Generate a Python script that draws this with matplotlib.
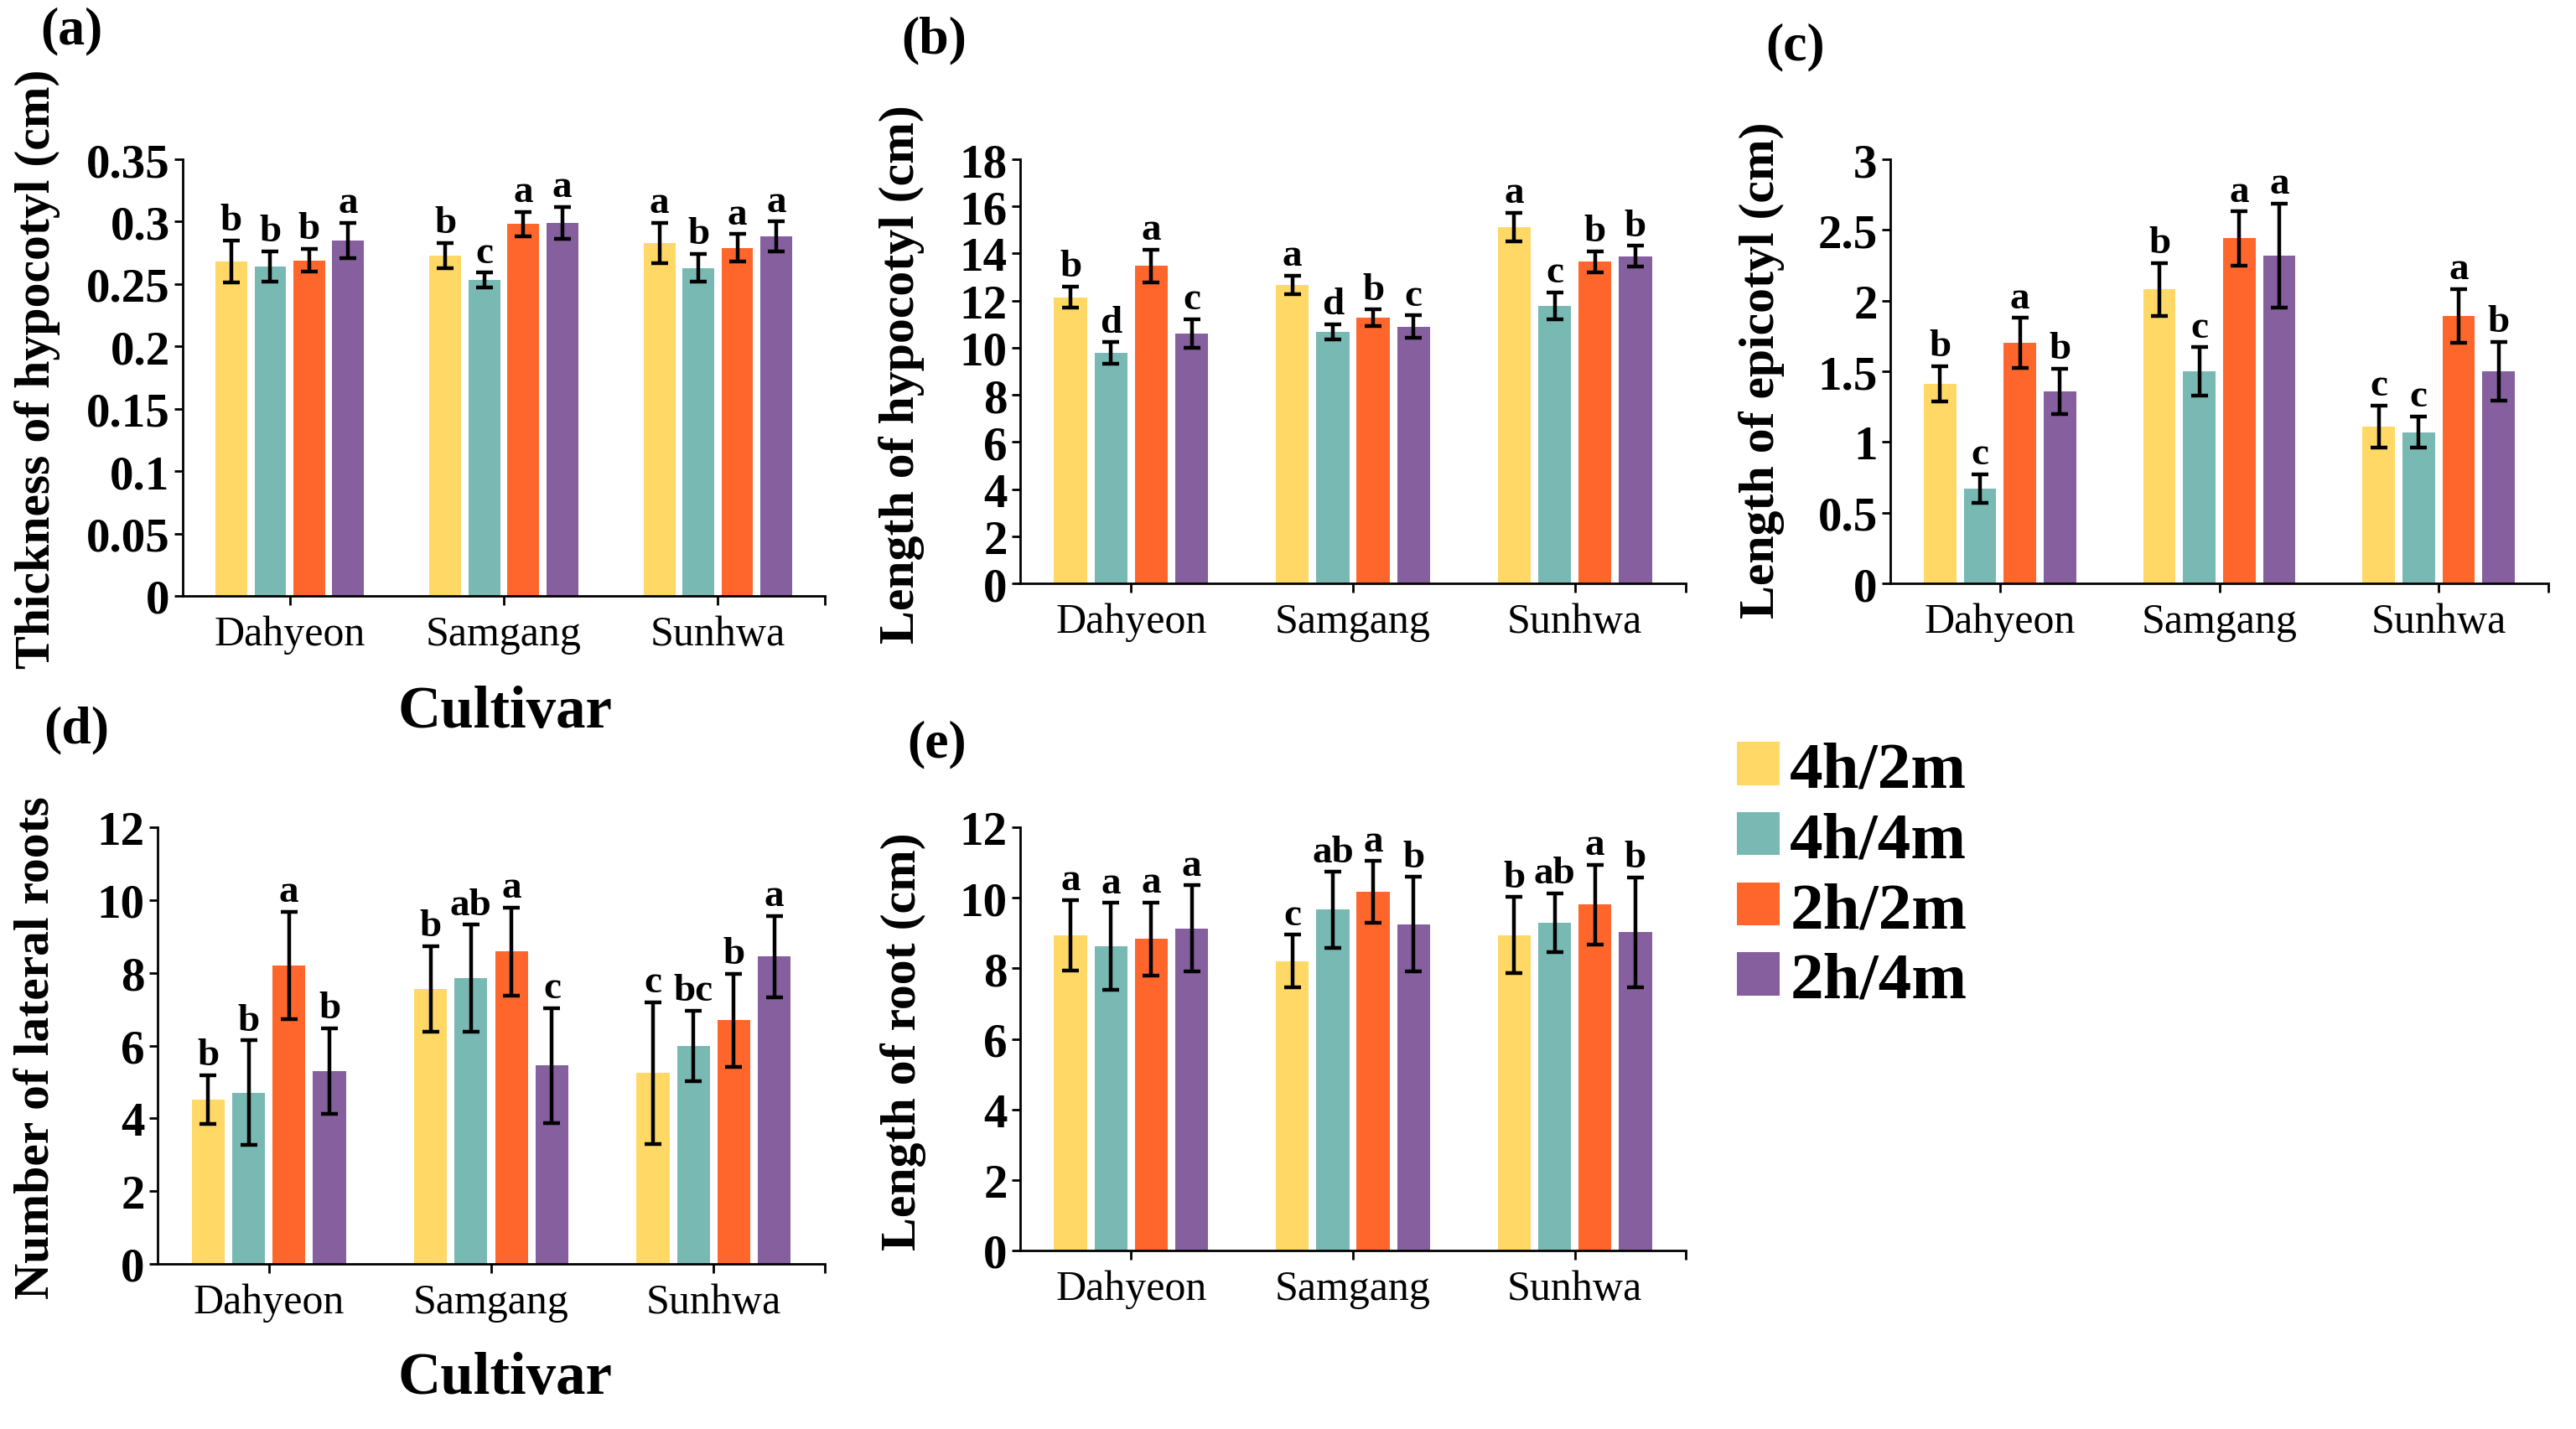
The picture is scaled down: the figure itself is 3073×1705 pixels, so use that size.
import matplotlib
matplotlib.use('Agg')
import matplotlib.pyplot as plt
import numpy as np
from matplotlib.patches import Patch

plt.rcParams['font.family'] = ['Liberation Serif', 'DejaVu Serif']

cultivars = ['Dahyeon', 'Samgang', 'Sunhwa']
treatments = ['4h/2m', '4h/4m', '2h/2m', '2h/4m']
colors = ['#FFD866', '#78B9B4', '#FF662C', '#855F9E']

# rows = treatments (4h/2m, 4h/4m, 2h/2m, 2h/4m); columns = cultivars
# (a) Thickness of hypocotyl (cm)
thick_mean = [[0.268, 0.273, 0.283],
              [0.264, 0.253, 0.263],
              [0.269, 0.298, 0.279],
              [0.285, 0.299, 0.288]]
thick_err = [[0.017, 0.010, 0.016],
             [0.012, 0.006, 0.011],
             [0.009, 0.010, 0.011],
             [0.014, 0.013, 0.012]]
thick_let = [['b', 'b', 'a'], ['b', 'c', 'b'], ['b', 'a', 'a'], ['a', 'a', 'a']]
thick_ticks = [0, 0.05, 0.1, 0.15, 0.2, 0.25, 0.3, 0.35]
thick_ticklabels = ['0', '0.05', '0.1', '0.15', '0.2', '0.25', '0.3', '0.35']

# (b) Length of hypocotyl (cm)
hypo_mean = [[12.14, 12.67, 15.12],
             [9.78, 10.67, 11.78],
             [13.47, 11.27, 13.65],
             [10.61, 10.90, 13.88]]
hypo_err = [[0.45, 0.38, 0.62],
            [0.45, 0.32, 0.58],
            [0.70, 0.35, 0.44],
            [0.60, 0.47, 0.44]]
hypo_let = [['b', 'a', 'a'], ['d', 'd', 'c'], ['a', 'b', 'b'], ['c', 'c', 'b']]
hypo_ticks = [0, 2, 4, 6, 8, 10, 12, 14, 16, 18]
hypo_ticklabels = ['0', '2', '4', '6', '8', '10', '12', '14', '16', '18']

# (c) Length of epicotyl (cm)
epi_mean = [[1.41, 2.08, 1.11],
            [0.67, 1.50, 1.07],
            [1.70, 2.44, 1.89],
            [1.36, 2.32, 1.50]]
epi_err = [[0.125, 0.187, 0.148],
           [0.100, 0.170, 0.110],
           [0.177, 0.190, 0.190],
           [0.160, 0.367, 0.207]]
epi_let = [['b', 'b', 'c'], ['c', 'c', 'c'], ['a', 'a', 'a'], ['b', 'a', 'b']]
epi_ticks = [0, 0.5, 1, 1.5, 2, 2.5, 3]
epi_ticklabels = ['0', '0.5', '1', '1.5', '2', '2.5', '3']

# (d) Number of lateral roots
lat_mean = [[4.51, 7.56, 5.24],
            [4.71, 7.85, 5.99],
            [8.20, 8.59, 6.70],
            [5.30, 5.45, 8.45]]
lat_err = [[0.67, 1.17, 1.95],
           [1.43, 1.47, 0.96],
           [1.48, 1.21, 1.28],
           [1.17, 1.57, 1.12]]
lat_let = [['b', 'b', 'c'], ['b', 'ab', 'bc'], ['a', 'a', 'b'], ['b', 'c', 'a']]
lat_ticks = [0, 2, 4, 6, 8, 10, 12]
lat_ticklabels = ['0', '2', '4', '6', '8', '10', '12']

# (e) Length of root (cm)
root_mean = [[8.93, 8.20, 8.94],
             [8.62, 9.66, 9.29],
             [8.83, 10.16, 9.81],
             [9.13, 9.25, 9.02]]
root_err = [[1.00, 0.75, 1.08],
            [1.23, 1.07, 0.83],
            [1.04, 0.88, 1.13],
            [1.22, 1.34, 1.56]]
root_let = [['a', 'c', 'b'], ['a', 'ab', 'ab'], ['a', 'a', 'a'], ['a', 'b', 'b']]
root_ticks = [0, 2, 4, 6, 8, 10, 12]
root_ticklabels = ['0', '2', '4', '6', '8', '10', '12']

W, H = 3073, 1706
fig = plt.figure(figsize=(W / 100, H / 100), dpi=100)

panels = [
    dict(rect=[218, 191, 984, 712], mean=thick_mean, err=thick_err, let=thick_let,
         ticks=thick_ticks, tl=thick_ticklabels, ylabel='Thickness of hypocotyl (cm)',
         ylab_xy=(45, 440), tag='(a)', tag_xy=(48, 37)),
    dict(rect=[1217, 191, 2011, 697], mean=hypo_mean, err=hypo_err, let=hypo_let,
         ticks=hypo_ticks, tl=hypo_ticklabels, ylabel='Length of hypocotyl (cm)',
         ylab_xy=(1076, 447), tag='(b)', tag_xy=(1075, 48)),
    dict(rect=[2255, 191, 3040, 697], mean=epi_mean, err=epi_err, let=epi_let,
         ticks=epi_ticks, tl=epi_ticklabels, ylabel='Length of epicotyl (cm)',
         ylab_xy=(2102, 442), tag='(c)', tag_xy=(2106, 56)),
    dict(rect=[188, 988, 984, 1509], mean=lat_mean, err=lat_err, let=lat_let,
         ticks=lat_ticks, tl=lat_ticklabels, ylabel='Number of lateral roots',
         ylab_xy=(45, 1250), tag='(d)', tag_xy=(52, 871)),
    dict(rect=[1217, 988, 2011, 1493], mean=root_mean, err=root_err, let=root_let,
         ticks=root_ticks, tl=root_ticklabels, ylabel='Length of root (cm)',
         ylab_xy=(1078, 1243), tag='(e)', tag_xy=(1082, 888)),
]

step = 0.182
bw = 0.148
x = np.arange(len(cultivars))

for p in panels:
    l, t, r, b = p['rect']
    ax = fig.add_axes([l / W, 1 - b / H, (r - l) / W, (b - t) / H])
    for i, tr in enumerate(treatments):
        xs = x + (i - 1.5) * step
        ax.bar(xs, p['mean'][i], width=bw, color=colors[i], edgecolor='none', zorder=2)
        ax.errorbar(xs, p['mean'][i], yerr=p['err'][i], fmt='none', ecolor='black',
                    elinewidth=3.2, capsize=7, capthick=3.2, zorder=3)
        for j in range(len(cultivars)):
            ax.annotate(p['let'][i][j], (xs[j], p['mean'][i][j] + p['err'][i][j]),
                        xytext=(0, 2), textcoords='offset points', ha='center', va='bottom',
                        fontsize=34, fontweight='bold')
    ax.set_xlim(-0.5, 2.5)
    ax.set_ylim(p['ticks'][0], p['ticks'][-1])
    ax.set_yticks(p['ticks'])
    ax.set_yticklabels(p['tl'], fontsize=41, fontweight='bold')
    ax.set_xticks(x)
    ax.set_xticklabels(cultivars, fontsize=36)
    ax.set_xticks([2.5], minor=True)
    ax.tick_params(axis='x', which='both', direction='out', length=8, width=2, pad=8)
    ax.tick_params(axis='y', direction='out', length=7, width=2, pad=4)
    for s in ['top', 'right']:
        ax.spines[s].set_visible(False)
    for s in ['left', 'bottom']:
        ax.spines[s].set_linewidth(2)
    fig.text(p['ylab_xy'][0] / W, 1 - p['ylab_xy'][1] / H, p['ylabel'], rotation=90,
             ha='center', va='center', fontsize=43, fontweight='bold')
    fig.text(p['tag_xy'][0] / W, 1 - p['tag_xy'][1] / H, p['tag'], ha='left', va='center',
             fontsize=46, fontweight='bold')

fig.text(602 / W, 1 - 851 / H, 'Cultivar', ha='center', va='center', fontsize=51, fontweight='bold')
fig.text(602 / W, 1 - 1646 / H, 'Cultivar', ha='center', va='center', fontsize=51, fontweight='bold')

handles = [Patch(facecolor=c, edgecolor='none') for c in colors]
fig.legend(handles, treatments, loc='upper left', bbox_to_anchor=(2072 / W, 1 - 886 / H),
           frameon=False, prop={'size': 57, 'weight': 'bold'}, handlelength=0.65,
           handleheight=0.62, handletextpad=0.15, labelspacing=0.16, borderpad=0,
           borderaxespad=0)

fig.savefig('out.png', dpi=100)
